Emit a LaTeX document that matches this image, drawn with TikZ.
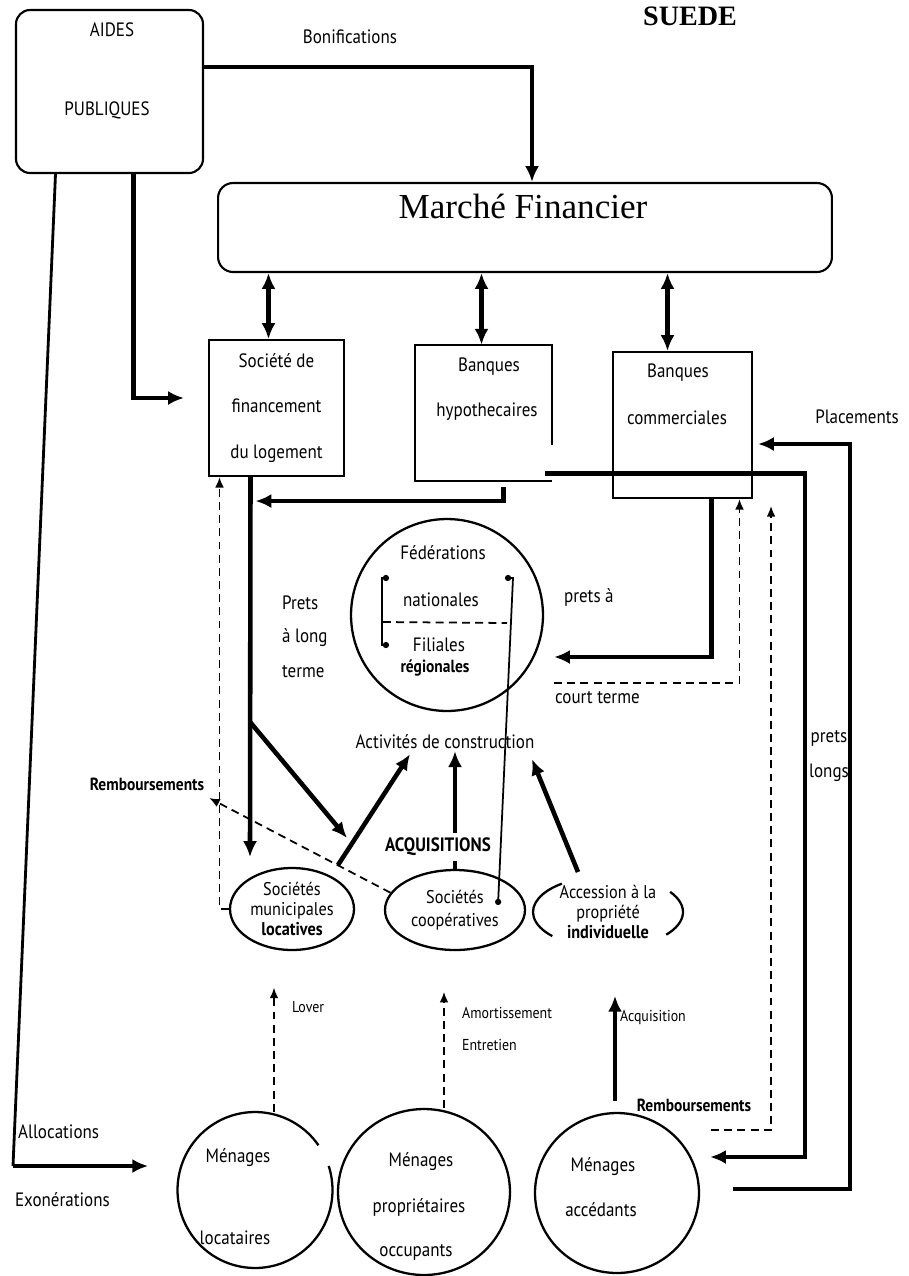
\documentclass[tikz,border=0pt]{standalone}
\usepackage{fontspec}
\setmainfont{PT Sans}[FakeStretch=0.88]
\newfontfamily\policeserif{Liberation Serif}
\usetikzlibrary{arrows.meta,shapes.geometric,calc}

\begin{document}
\begin{tikzpicture}[x=0.02cm,y=-0.02cm,
    >={Latex[length=9pt,width=8pt]},
    fort/.style={line width=2.6pt},
    moyen/.style={line width=1.6pt},
    mince/.style={line width=1pt},
    tirets/.style={line width=1pt,dash pattern=on 4.5pt off 3pt,>={Latex[length=6pt,width=5pt]}},
    boite/.style={draw,line width=1.2pt,inner sep=0pt},
    ovale/.style={ellipse,draw,line width=1.3pt,inner sep=0pt},
    txt/.style={font=\fontsize{11}{13}\selectfont,inner sep=1pt},
    petit/.style={font=\fontsize{9}{11}\selectfont,inner sep=1pt,anchor=west},
    manu/.style={font=\fontsize{10}{12}\selectfont\bfseries,inner sep=1pt}]
  \useasboundingbox (0,0) rectangle (909,1276);

  \node[font=\policeserif\bfseries\fontsize{16}{18}\selectfont,anchor=base] (suede) at (690,25) {SUEDE};

  \node[boite,rounded corners=0.28cm,minimum width=3.74cm,minimum height=3.26cm] (aides) at (109.5,91.5) {};
  \node[txt] (aidesA) at (112,30) {AIDES};
  \node[txt] (aidesB) at (107,110) {PUBLIQUES};
  \node[txt] (bonif) at (350,37) {Bonifications};

  \node[boite,rounded corners=0.3cm,minimum width=12.28cm,minimum height=1.78cm] (marche) at (525,227.5) {};
  \node[font=\policeserif\fontsize{20}{24}\selectfont] (marcheT) at (523,206) {Marché Financier};

  \node[boite,minimum width=2.7cm,minimum height=2.72cm,align=center,font=\fontsize{11}{26}\selectfont] (sfl) at (276.5,408) {Société de\\financement\\du logement};

  \node[minimum width=2.74cm,minimum height=2.72cm] (hyp) at (483.5,413) {};
  \draw[line width=1.2pt] ($(hyp.north east)+(0,100)$) -- (hyp.north east) -- (hyp.north west) -- (hyp.south west) -- (hyp.south east);
  \node[txt] (hypA) at (489,367) {Banques};
  \node[txt] (hypB) at (487,412) {hypothecaires};

  \node[boite,minimum width=2.78cm,minimum height=2.92cm] (comm) at (682.5,425) {};
  \node[txt] (commA) at (678,373) {Banques};
  \node[txt] (commB) at (677,418) {commerciales};

  \node[circle,draw,line width=1.3pt,minimum size=3.84cm] (fed) at (447,615) {};
  \node[txt] (fedA) at (443,553) {Fédérations};
  \node[txt] (fedB) at (441,600) {nationales};
  \node[txt] (fedC) at (439,645) {Filiales};
  \node[manu] (fedD) at (435,668) {régionales};

  \node[ovale,minimum width=2.48cm,minimum height=1.64cm,align=center,font=\fontsize{10.5}{11.5}\selectfont] (muni) at (292,909) {Sociétés\\municipales\\{\bfseries locatives}};
  \node[ovale,minimum width=2.8cm,minimum height=1.6cm,align=center,font=\fontsize{10.5}{13}\selectfont] (coop) at (455,910) {Sociétés\\coopératives};
  \node[ellipse,inner sep=0pt,minimum width=3cm,minimum height=1.44cm,align=center,font=\fontsize{10.5}{11.5}\selectfont] (acces) at (608,912) {Accession à la\\propriété\\{\bfseries individuelle}};
  \draw[line width=1.3pt] ($(acces.center)+(128:1.5cm and 0.72cm)$) arc[start angle=128,end angle=222,x radius=1.5cm,y radius=0.72cm];
  \draw[line width=1.3pt] ($(acces.center)+(-39:1.5cm and 0.72cm)$) arc[start angle=-39,end angle=34,x radius=1.5cm,y radius=0.72cm];

  \node[ellipse,inner sep=0pt,minimum width=3.1cm,minimum height=3.12cm] (loc) at (255,1190) {};
  \draw[line width=1.3pt] ($(loc.center)+(35:1.55cm and 1.56cm)$) arc[start angle=35,end angle=378,x radius=1.55cm,y radius=1.56cm];
  \node[txt] (locA) at (238,1158) {Ménages};
  \node[txt] (locB) at (235,1238) {locataires};
  \node[ovale,minimum width=3.44cm,minimum height=3.32cm] (prop) at (424,1192) {};
  \node[txt] (propA) at (421,1162) {Ménages};
  \node[txt] (propB) at (419,1207) {propriétaires};
  \node[txt] (propC) at (416,1252) {occupants};
  \node[ovale,minimum width=3.28cm,minimum height=3.2cm] (acced) at (617,1193) {};
  \node[txt] (accedA) at (603,1167) {Ménages};
  \node[txt] (accedB) at (601,1210) {accédants};

  \draw[mince,{Circle[length=3.5pt]}-{Circle[length=3.5pt]}] ($(fed.center)+(-58,-37)$) -- ++(-7,0) -- ++(0,67) -- ++(7,0);
  \draw[mince,{Circle[length=3.5pt]}-{Circle[length=3.5pt]}] ($(fed.center)+(58,-37)$) -- ($(fed.center)+(66,-37)$) -- ($(coop.center)+(43,-5)$);
  \draw[tirets] ($(fed.center)+(-64,7)$) -- ($(fed.center)+(60,8)$);

  \draw[fort,->] ($(aides.north east)+(0,58)$) -| ($(marche.north)+(7,0)$);
  \draw[fort,->] ($(aides.south)+(24,0)$) |- ($(sfl.west)+(-24,-10)$);
  \coordinate (coin) at (13,1166);
  \draw[moyen] ($(aides.south)+(-54,0)$) -- (coin);
  \draw[fort,->] (coin) -- ($(loc.west)+(-29,-24)$);
  \node[txt,anchor=west] (alloc) at (16,1132) {Allocations};
  \node[txt,anchor=west] (exon) at (13,1200) {Exonérations};

  \foreach \nom/\dx in {sfl/-8,hyp/-2,comm/-15}{
    \coordinate (d\nom) at ($(\nom.north)+(\dx,0)$);
    \draw[fort,<->] (d\nom) -- (d\nom |- marche.south);
  }

  \coordinate (lt1) at ($(sfl.south)+(-26,0)$);
  \coordinate (lt2) at ($(muni.center)+(-42,-52)$);
  \draw[fort,->] (lt1) -- (lt2);
  \draw[fort,->] ($(lt1)!0.645!(lt2)$) -- ($(muni.center)+(55,-71)$);
  \draw[fort,->] ($(hyp.south)+(20,6)$) |- ($(lt1)+(5,24)$);
  \node[txt,anchor=west] (ltA) at (280,603) {Prets};
  \node[txt,anchor=west] (ltB) at (280,638) {à long};
  \node[txt,anchor=west] (ltC) at (280,672) {terme};

  \coordinate (lg) at (805,1157);
  \draw[fort,->] ($(hyp.south east)+(-7,-8)$) -| (lg) -- ($(acced.east)+(10,-36)$);
  \node[txt] (plgA) at (829,738) {prets};
  \node[txt] (plgB) at (829,773) {longs};
  \coordinate (pc) at (850,1189);
  \draw[fort,->] ($(acced.east)+(33,-4)$) -- (pc) |- ($(comm.east)+(5,19)$);
  \node[txt] (plac) at (857,417) {Placements};

  \draw[fort,->] ($(comm.south)+(29,0)$) |- ($(fed.east)+(10,42)$);
  \draw[tirets,->] ($(fed.east)+(10,68)$) -| ($(comm.south)+(57,0)$);
  \node[txt,anchor=west] (ctA) at (562,597) {prets à};
  \node[txt,anchor=west] (ctB) at (553,698) {court terme};

  \node[manu] (rembA) at (147,784) {Remboursements};
  \node[manu] (rembB) at (694,1105) {Remboursements};
  \draw[tirets,->] ($(acced.east)+(11,-63)$) -| ($(comm.south east)+(18,7)$);
  \draw[tirets,->] (muni.west) -| ($(sfl.south)+(-57,0)$);
  \draw[tirets,->] (coop.165) -- ($(rembA.east)+(3,14)$);

  \node[txt] (act) at (445,742) {Activités de construction};
  \draw[fort,->] ($(muni.center)+(46,-44)$) -- ($(act.south)+(-35,3)$);
  \draw[fort,->] (coop.north) -- ($(act.south)+(10,0)$);
  \draw[fort,->] ($(acces.center)+(-30,-40)$) -- ($(act.south)+(87,8)$);
  \node[manu,font=\fontsize{11}{13}\selectfont\bfseries,fill=white,inner sep=3pt] (acq) at (438,847) {ACQUISITIONS};

  \draw[tirets,->] ($(loc.north)+(19,0)$) -- ($(loc.north)+(19,-124)$);
  \node[petit] (lover) at (290,1007) {Lover};
  \draw[tirets,->] ($(prop.north)+(20,0)$) -- ($(prop.north)+(20,-116)$);
  \node[petit] (amort) at (460,1013) {Amortissement};
  \node[petit] (entr) at (460,1045) {Entretien};
  \draw[fort,->] ($(acced.north)+(-2,-11)$) -- ($(acced.north)+(-2,-116)$);
  \node[petit] (acqu) at (618,1017) {Acquisition};
\end{tikzpicture}
\end{document}
